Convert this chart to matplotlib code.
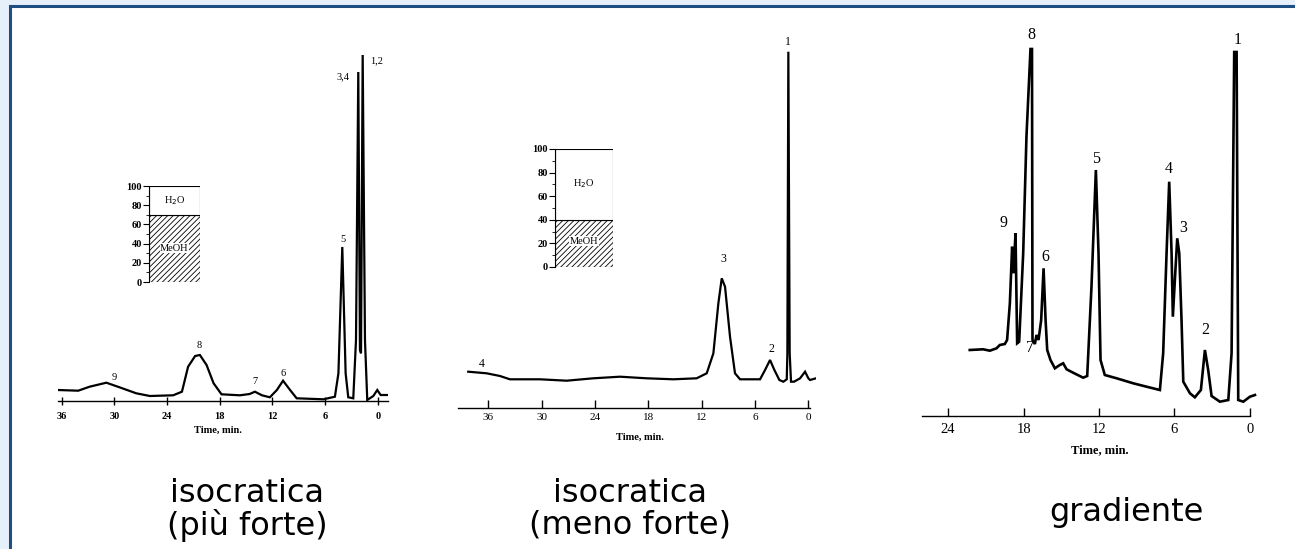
import matplotlib
matplotlib.use("Agg")
import matplotlib.pyplot as plt
from matplotlib.patches import Rectangle

# --- data (time in min, signal in px above the time axis) ---

# isocratica (piu forte)
p1_time = [36.4, 34.1, 32.8, 30.9, 29.4, 27.5, 25.95, 23.3, 22.3, 21.6, 20.8, 20.26, 19.5, 18.7,
           17.8, 15.7, 14.6, 14.0, 13.2, 12.3, 11.5, 10.8, 10.0, 9.25, 6.2, 4.9, 4.5, 4.06, 3.68,
           3.38, 2.81, 2.5, 2.24, 2.05, 1.93, 1.74, 1.48, 1.22, 0.53, 0.08, -0.3, -1.17]
p1_signal = [11, 10.3, 14.3, 18.3, 13.7, 7.7, 5, 5.7, 9.3, 34.3, 45, 46, 36, 17.7,
             6.7, 5.7, 7, 9.3, 5.7, 3.7, 11, 20.3, 11, 2.7, 1.7, 4.3, 27.7, 154, 27.7,
             3.7, 2.7, 61, 329, 51, 47.7, 346, 61, 1, 5, 11, 6, 6]
p1_labels = ["9", "8", "7", "6", "5", "3,4", "1,2"]
p1_label_t = [30.0, 20.3, 14.0, 10.8, 3.95, 3.95, 0.15]
p1_label_s = [24, 56, 19, 28, 162, 324, 340]
p1_ticks = [36, 30, 24, 18, 12, 6, 0]
p1_meoh = 70

# isocratica (meno forte)
p2_time = [38.25, 36.18, 34.68, 33.56, 30.18, 27.18, 24.19, 21.18, 18.19, 15.19, 12.56, 11.43,
           10.68, 10.12, 9.74, 9.37, 8.81, 8.25, 7.68, 5.43, 4.87, 4.31, 3.82, 3.26, 2.81, 2.43,
           2.36, 2.25, 2.10, 1.95, 1.61, 0.93, 0.37, 0.0, -0.19, -0.86]
p2_signal = [36, 34.4, 31.7, 28.4, 28.4, 27, 29.4, 31, 29.4, 28.4, 29.4, 34.4,
             54.4, 104.4, 129.4, 121, 71, 34.4, 28.4, 28.4, 37.7, 47.7, 37.7, 27.7, 26, 28.4,
             54.4, 356, 54.4, 26, 26, 29.4, 36, 29.4, 27.7, 29.4]
p2_labels = ["4", "3", "2", "1"]
p2_label_t = [36.7, 9.56, 4.12, 2.28]
p2_label_s = [44, 149, 59, 366]
p2_ticks = [36, 30, 24, 18, 12, 6, 0]
p2_meoh = 40

# gradiente
p3_time = [22.28, 21.22, 20.68, 20.15, 19.89, 19.49, 19.31, 19.09, 18.91, 18.80, 18.64, 18.51,
           18.35, 18.03, 17.77, 17.45, 17.33, 17.29, 17.10, 16.97, 16.81, 16.6, 16.41, 16.25,
           16.12, 15.86, 15.51, 15.12, 14.85, 14.58, 14.06, 13.26, 12.94, 12.6, 12.25, 12.04,
           11.88, 11.54, 10.6, 9.28, 8.22, 7.16, 6.9, 6.63, 6.42, 6.23, 6.13, 5.94, 5.78, 5.62,
           5.44, 5.3, 4.77, 4.38, 3.9, 3.58, 3.32, 3.05, 2.39, 1.72, 1.46, 1.25, 1.06, 0.93,
           0.53, 0.0, -0.4]
p3_signal = [66, 66.7, 65.3, 67.7, 71, 72, 76, 112.7, 169.3, 142.7, 182.7, 72.7,
             74.3, 162.7, 279.3, 367, 367, 76, 72, 81, 76, 96, 147.7, 96,
             66, 56, 47.7, 51, 52.7, 46.7, 43.3, 38.3, 40, 129.3, 246, 162.7,
             56, 41, 37.7, 32.7, 29.3, 26, 62.7, 162.7, 234.3, 162.7, 99.3, 142.7, 177.7, 162.7,
             96, 34.3, 22.7, 18.7, 26, 66, 46, 20, 14.3, 16, 62.7, 364, 364, 16,
             14.3, 19.3, 21]
p3_labels = ["8", "9", "6", "7", "5", "4", "3", "2", "1"]
p3_label_t = [17.37, 19.62, 16.25, 17.5, 12.2, 6.42, 5.27, 3.58, 1.01]
p3_label_s = [381, 193, 159, 68, 257, 247, 188, 86, 376]
p3_ticks = [24, 18, 12, 6, 0]

captions = ["isocratica\n(più forte)", "isocratica\n(meno forte)", "gradiente"]

W, H = 1295, 549
SERIF = ["Liberation Serif", "DejaVu Serif"]
plt.rcParams["hatch.linewidth"] = 0.6

fig = plt.figure(figsize=(W / 100, H / 100), dpi=100)
fig.patch.set_facecolor("#e6f0fb")

# slide panel (behind the axes)
fig.add_artist(Rectangle((10 / W, -0.05), (W + 20) / W, 1.05 - 6 / H, transform=fig.transFigure,
                         facecolor="white", edgecolor="#1f4e82", linewidth=2.2, zorder=-10))


def px_axes(x0, y0, x1, y1):
    return fig.add_axes([x0 / W, 1 - y1 / H, (x1 - x0) / W, (y1 - y0) / H])


def chromatogram(rect, xlim, ylim, t, s, labels, lt, ls, ticks, lw, tick_dir, tick_fs,
                 label_fs, tick_pad, xlabel_pos, xlabel_fs, spine_right, tick_weight="normal"):
    ax = px_axes(*rect)
    ax.patch.set_alpha(0)
    ax.plot(t, s, color="black", lw=lw, solid_joinstyle="miter")
    for lab, x, y in zip(labels, lt, ls):
        ax.text(x, y, lab, ha="center", va="center", fontsize=label_fs, family=SERIF)
    ax.set_xlim(*xlim)
    ax.set_ylim(*ylim)
    for sp in ["left", "right", "top"]:
        ax.spines[sp].set_visible(False)
    ax.spines["bottom"].set_bounds(xlim[0], spine_right)
    ax.spines["bottom"].set_linewidth(1.0)
    ax.set_yticks([])
    ax.set_xticks(ticks)
    ax.set_xticklabels([str(v) for v in ticks], family=SERIF, fontweight=tick_weight)
    ax.tick_params(axis="x", direction=tick_dir, length=6, width=1.0, labelsize=tick_fs, pad=tick_pad)
    ax.set_xlabel("Time, min.", family=SERIF, fontsize=xlabel_fs, fontweight="bold")
    ax.xaxis.set_label_coords(*xlabel_pos)
    return ax


def composition(rect, meoh, h2o_y, meoh_y):
    ax = px_axes(*rect)
    ax.bar(0, meoh, width=1, color="white", edgecolor="black", hatch="//////", lw=0.8)
    ax.bar(0, 100 - meoh, bottom=meoh, width=1, color="white", edgecolor="black", lw=0.8)
    ax.set_xlim(-0.5, 0.5)
    ax.set_ylim(0, 100)
    for sp in ["right", "top", "bottom"]:
        ax.spines[sp].set_visible(False)
    ax.set_xticks([])
    ax.set_yticks(range(0, 101, 20))
    ax.set_yticks(range(0, 101, 10), minor=True)
    ax.set_yticklabels([str(v) for v in range(0, 101, 20)], family=SERIF, fontweight="bold")
    ax.tick_params(axis="y", which="major", length=4, width=0.8, labelsize=7.5, pad=1)
    ax.tick_params(axis="y", which="minor", length=2, width=0.6)
    ax.text(0, h2o_y, "H$_2$O", ha="center", va="center", fontsize=7.5, family=SERIF,
            bbox=dict(facecolor="white", edgecolor="none", pad=0.5))
    ax.text(0, meoh_y, "MeOH", ha="center", va="center", fontsize=7.5, family=SERIF,
            bbox=dict(facecolor="white", edgecolor="none", pad=0.3))
    return ax


chromatogram((58, 40, 388, 401), (36.4, -1.14), (0, 361), p1_time, p1_signal,
             p1_labels, p1_label_t, p1_label_s, p1_ticks, 1.6, "inout", 7.5, 7.5, 5,
             (0.485, -0.07), 7.5, -1.14, "bold")
composition((149, 186, 200, 282), p1_meoh, 85, 35)

chromatogram((458, 20, 816, 407.7), (39.4, -0.86), (0, 387.7), p2_time, p2_signal,
             p2_labels, p2_label_t, p2_label_s, p2_ticks, 1.6, "in", 8, 8.5, 4,
             (0.509, -0.065), 7.5, -0.2)
composition((555, 149, 613, 267), p2_meoh, 71, 22)

chromatogram((921.7, 20, 1260, 416), (26.1, -0.8), (0, 396), p3_time, p3_signal,
             p3_labels, p3_label_t, p3_label_s, p3_ticks, 1.9, "in", 10.5, 11.5, 5,
             (0.527, -0.07), 9, 0)

cap_x = [247, 630, 1126]
cap_y = [510, 509, 513]
for c, x, y in zip(captions, cap_x, cap_y):
    fig.text(x / W, 1 - y / H, c, ha="center", va="center", fontsize=23,
             family=["DejaVu Sans"], linespacing=1.0)

fig.savefig("out.png", dpi=100)
